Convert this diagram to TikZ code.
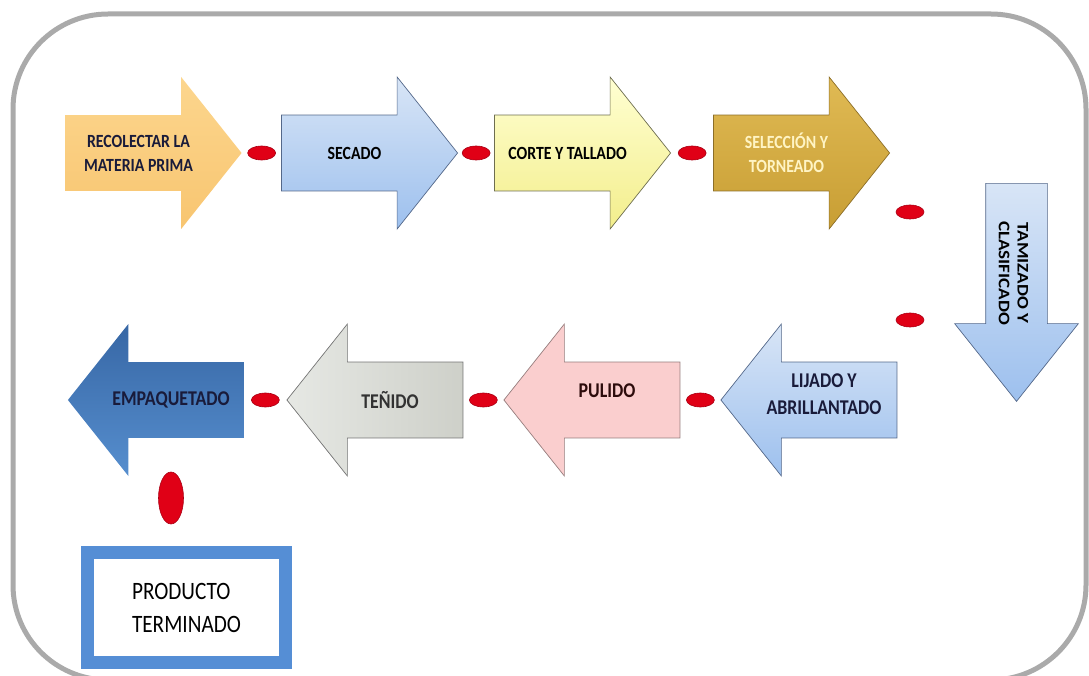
\documentclass[tikz,border=0pt]{standalone}
\usepackage{fontspec}
\setmainfont{Carlito}[FakeStretch=0.85]
\newfontfamily\upfont{Carlito}
\usetikzlibrary{shapes.arrows,shapes.geometric,calc,positioning}
\definecolor{framegray}{RGB}{170,170,170}
\definecolor{dotred}{RGB}{224,0,22}
\definecolor{dotrim}{RGB}{170,0,20}
\definecolor{boxblue}{RGB}{85,142,213}
\definecolor{orangeA}{RGB}{252,214,142}
\definecolor{orangeB}{RGB}{248,197,112}
\definecolor{blueA}{RGB}{216,229,246}
\definecolor{blueB}{RGB}{157,192,238}
\definecolor{blueline}{RGB}{84,104,138}
\definecolor{yellowA}{RGB}{255,255,210}
\definecolor{yellowB}{RGB}{243,238,140}
\definecolor{yellowline}{RGB}{110,110,80}
\definecolor{goldA}{RGB}{224,186,84}
\definecolor{goldB}{RGB}{200,158,52}
\definecolor{goldline}{RGB}{140,110,40}
\definecolor{pinkA}{RGB}{250,206,206}
\definecolor{pinkB}{RGB}{246,156,156}
\definecolor{pinkline}{RGB}{150,125,125}
\definecolor{grayA}{RGB}{230,232,228}
\definecolor{grayB}{RGB}{178,181,170}
\definecolor{grayC}{RGB}{206,208,201}
\definecolor{grayline}{RGB}{115,115,115}
\definecolor{navyA}{RGB}{55,103,165}
\definecolor{navyB}{RGB}{86,142,206}
\definecolor{inkA}{RGB}{25,27,58}
\definecolor{inkB}{RGB}{255,244,196}
\definecolor{inkC}{RGB}{45,12,12}
\definecolor{inkD}{RGB}{50,50,50}
\tikzset{procarrow/.style={single arrow,minimum height=176pt,minimum width=152pt,single arrow head extend=38pt,single arrow tip angle=103,inner xsep=0pt,inner ysep=37.5pt,line width=0.7pt},
    backarrow/.style={procarrow,shape border rotate=180},
    reddot/.style={ellipse,fill=dotred,draw=dotrim,line width=0.6pt,minimum width=28pt,minimum height=14pt,inner sep=0pt},
    lbl/.style={font=\bfseries\fontsize{18.6}{24}\selectfont,align=center,inner sep=0pt},
    lbltwo/.style={font=\bfseries\fontsize{21}{27}\selectfont,align=center,inner sep=0pt},
    frame/.style={draw=framegray,line width=5pt,rounded corners=95pt}}

\begin{document}
\begin{tikzpicture}[x=1pt,y=-1pt,node distance=216pt]
    \useasboundingbox (0,0) rectangle (1089,676);
    \draw [frame] (13,14) rectangle (1086,680);

    \node [procarrow, top color=orangeA, bottom color=orangeB, draw=none,
        label={[lbl, text=inkA]center:{RECOLECTAR LA\\MATERIA PRIMA}}] (recolectar) at (138.5,153) {};
    \node [procarrow, right of = recolectar, top color=blueA, bottom color=blueB, draw=blueline,
        label={[lbl, text=black]center:{SECADO}}] (secado) {};
    \node [procarrow, right of = secado, xshift = -3pt, top color=yellowA, bottom color=yellowB, draw=yellowline,
        label={[lbl, text=black]center:{CORTE Y TALLADO}}] (corte) {};
    \node [procarrow, right of = corte, xshift = 3pt, top color=goldA, bottom color=goldB, draw=goldline,
        label={[lbl, text=inkB]center:{SELECCIÓN Y\\TORNEADO}}] (seleccion) {};

    \node [procarrow, rotate=-90, minimum height=218pt, minimum width=123pt, single arrow head extend=31pt,
        inner ysep=30.5pt, single arrow tip angle=77, top color=blueA, bottom color=blueB, draw=blueline] (tamizado) at (1016.5,273) {};
    \node [font=\upfont\bfseries\fontsize{19}{22}\selectfont, align=center, inner sep=0pt,
        rotate=-90, yscale=0.85] (tamizadolabel) at ([xshift=-3pt]tamizado.center) {TAMIZADO Y\\CLASIFICADO};

    \node [backarrow, top color=blueA, bottom color=blueB, draw=blueline,
        label={[lbltwo, yshift=6pt, text=inkA]center:{LIJADO Y\\ABRILLANTADO}}] (lijado) at (824,400) {};
    \node [backarrow, left of = lijado, node distance=217pt, left color=pinkA, middle color=pinkB, right color=pinkA, draw=pinkline,
        label={[lbltwo, yshift=9pt, text=inkC]center:{PULIDO}}] (pulido) {};
    \node [backarrow, left of = pulido, node distance=217pt, left color=grayA, middle color=grayB, right color=grayC, draw=grayline,
        label={[lbltwo, text=inkD]center:{TEÑIDO}}] (tenido) {};
    \node [backarrow, left of = tenido, node distance=217pt, xshift = -2pt, top color=navyA, bottom color=navyB, draw=none,
        label={[lbltwo, text=inkA]center:{EMPAQUETADO}}] (empaquetado) {};

    \node [reddot] (dot1) at ($(recolectar.tip)!.5!(secado.tail)$) {};
    \node [reddot] (dot2) at ($(secado.tip)!.5!(corte.tail)$) {};
    \node [reddot] (dot3) at ($(corte.tip)!.5!(seleccion.tail)$) {};
    \node [reddot] (dot4) at (910,212) {};
    \node [reddot] (dot5) at (910,320) {};
    \node [reddot] (dot6) at ($(lijado.tip)!.5!(pulido.tail)$) {};
    \node [reddot] (dot7) at ($(pulido.tip)!.5!(tenido.tail)$) {};
    \node [reddot] (dot8) at ($(tenido.tip)!.5!(empaquetado.tail)$) {};
    \node [reddot, minimum width=25pt, minimum height=52pt] (dot9) at (171,498) {};

    \node [draw=boxblue, line width=13pt, fill=white, minimum width=198pt, minimum height=110pt,
        align=left, font=\fontsize{25}{33}\selectfont, text=black] (producto) at (186.5,607.5) {PRODUCTO\\TERMINADO};
\end{tikzpicture}
\end{document}
